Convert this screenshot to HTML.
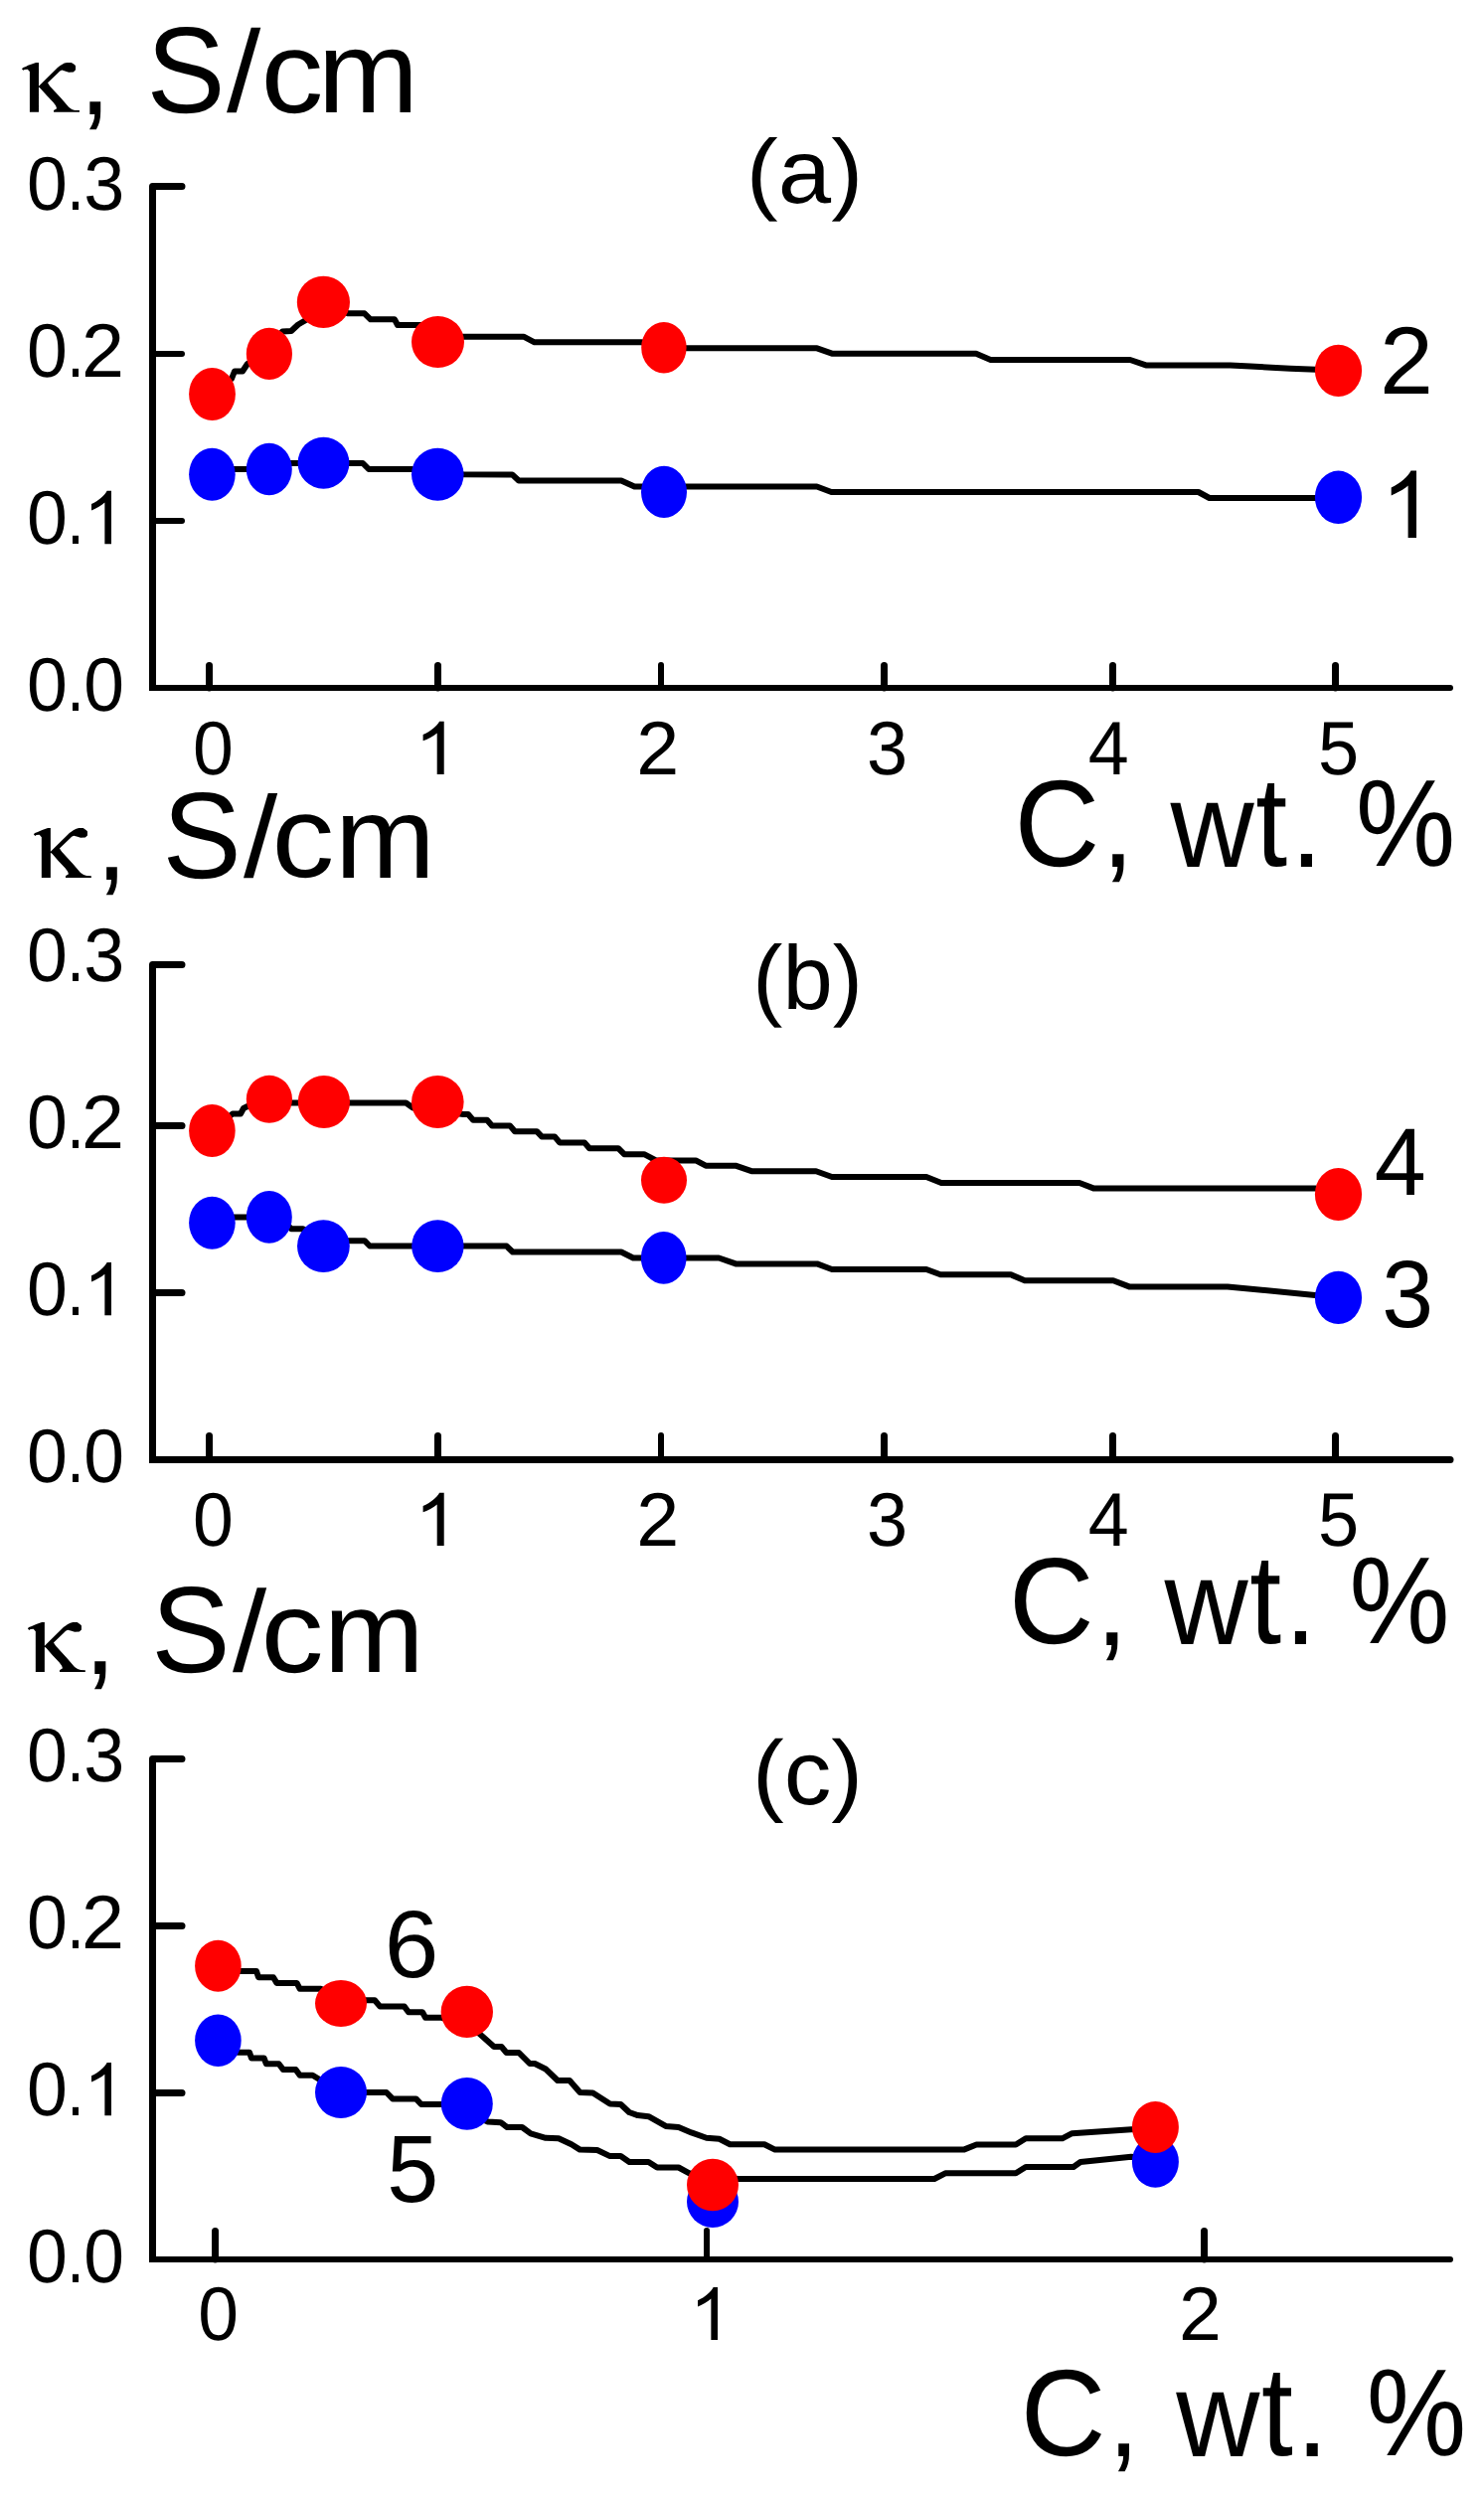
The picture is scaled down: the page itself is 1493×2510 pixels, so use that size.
<!DOCTYPE html><html><head><meta charset="utf-8"><style>html,body{margin:0;padding:0;background:#fff;overflow:hidden;}svg{display:block}text{font-family:"Liberation Sans",sans-serif;font-kerning:none;text-rendering:geometricPrecision}</style></head><body>
<svg width="1493" height="2510" viewBox="0 0 1493 2510">
<rect width="1493" height="2510" fill="#fff"/>
<g fill="none" stroke="#000" stroke-linecap="round" stroke-linejoin="round">
<path d="M183,187.5 L153.5,187.5 L153.5,689.0" stroke-width="7"/>
<path d="M156,692 L1459,692" stroke-width="6"/>
<rect x="150" y="689.0" width="8" height="6" fill="#000" stroke="none"/>
<path d="M153.5,356 L183,356" stroke-width="6"/>
<path d="M153.5,524 L183,524" stroke-width="6"/>
<path d="M210.5,692 L210.5,669.5" stroke-width="7"/>
<path d="M440.5,692 L440.5,669.5" stroke-width="7"/>
<path d="M665,692 L665,669.0" stroke-width="6"/>
<path d="M889.5,692 L889.5,669.5" stroke-width="7"/>
<path d="M1119.5,692 L1119.5,669.5" stroke-width="7"/>
<path d="M1343.5,692 L1343.5,669.5" stroke-width="7"/>
<path d="M183,970.5 L153.5,970.5 L153.5,1465.0" stroke-width="7"/>
<path d="M156,1468.5 L1459,1468.5" stroke-width="7"/>
<rect x="150" y="1465.0" width="8" height="7" fill="#000" stroke="none"/>
<path d="M153.5,1132.5 L183,1132.5" stroke-width="7"/>
<path d="M153.5,1300.5 L183,1300.5" stroke-width="7"/>
<path d="M210.5,1468.5 L210.5,1444.5" stroke-width="7"/>
<path d="M440.5,1468.5 L440.5,1444.5" stroke-width="7"/>
<path d="M665,1468.5 L665,1444.0" stroke-width="6"/>
<path d="M889.5,1468.5 L889.5,1444.5" stroke-width="7"/>
<path d="M1119.5,1468.5 L1119.5,1444.5" stroke-width="7"/>
<path d="M1343.5,1468.5 L1343.5,1444.5" stroke-width="7"/>
<path d="M183,1769.5 L153.5,1769.5 L153.5,2270.0" stroke-width="7"/>
<path d="M156,2273 L1459,2273" stroke-width="6"/>
<rect x="150" y="2270.0" width="8" height="6" fill="#000" stroke="none"/>
<path d="M153.5,1937.5 L183,1937.5" stroke-width="7"/>
<path d="M153.5,2105.5 L183,2105.5" stroke-width="7"/>
<path d="M216.5,2273 L216.5,2244.5" stroke-width="7"/>
<path d="M711,2273 L711,2244.0" stroke-width="6"/>
<path d="M1211.5,2273 L1211.5,2244.5" stroke-width="7"/>
</g>
<g>
<path d="M213.5,396.4 L233.0,381.0 L236.0,373.5 L244.0,373.5 L249.0,366.0 L270.9,355.9 L284.0,333.5 L293.0,333.0 L300.0,326.5 L306.0,323.0 L312.0,319.0 L325.5,303.9 L350.0,315.3 L366.7,315.3 L372.8,321.3 L397.0,321.3 L400.0,327.0 L424.0,327.0 L455.0,338.7 L466.0,338.7 L526.8,338.7 L537.7,344.3 L645.0,344.3 L690.0,350.3 L822.0,350.3 L837.7,355.8 L982.0,355.8 L996.6,361.9 L1137.0,362.0 L1152.8,367.4 L1237.7,367.4 L1258.0,368.5 L1279.0,369.7 L1298.0,370.8 L1324.0,371.8 L1346.5,372.8" fill="none" stroke="#000" stroke-width="6" stroke-linejoin="round"/>
<path d="M213.4,472.0 L270.8,472.0 L290.0,466.0 L325.5,466.0 L365.0,466.0 L371.0,472.0 L414.0,472.0 L440.3,475.0 L466.0,477.3 L515.3,477.4 L521.9,483.5 L625.0,483.5 L638.3,489.5 L668.0,489.5 L821.8,489.5 L836.4,495.0 L1205.7,495.0 L1216.7,501.0 L1346.5,501.0" fill="none" stroke="#000" stroke-width="6" stroke-linejoin="round"/>
<path d="M213.4,1137.5 L234.0,1120.5 L242.0,1120.5 L245.0,1115.0 L249.0,1113.0 L270.9,1109.5 L325.9,1109.5 L408.4,1109.5 L415.5,1114.5 L440.3,1117.0 L466.0,1121.0 L466.0,1121.0 L471.0,1121.0 L476.0,1126.7 L490.0,1126.7 L495.0,1132.4 L513.0,1132.4 L518.0,1138.2 L540.0,1138.2 L545.0,1143.4 L558.0,1143.4 L563.0,1149.4 L588.0,1149.4 L593.0,1155.2 L622.0,1155.2 L628.0,1161.2 L648.0,1161.2 L660.0,1167.4 L700.0,1167.4 L710.0,1172.7 L740.0,1172.7 L756.0,1178.2 L821.0,1178.2 L837.0,1184.0 L932.0,1184.0 L947.0,1190.0 L1086.0,1190.0 L1100.0,1195.4 L1323.0,1195.4 L1346.5,1201.5" fill="none" stroke="#000" stroke-width="6" stroke-linejoin="round"/>
<path d="M213.4,1224.4 L270.8,1224.4 L289.0,1232.0 L293.0,1236.3 L305.0,1236.3 L325.4,1248.2 L366.8,1248.2 L372.0,1253.5 L440.4,1253.5 L466.0,1253.6 L509.7,1253.6 L515.8,1259.5 L625.0,1259.5 L637.0,1265.5 L690.5,1265.5 L723.2,1265.5 L740.2,1271.4 L822.0,1271.4 L837.0,1277.0 L932.0,1277.0 L946.2,1282.3 L1017.0,1282.3 L1031.0,1288.3 L1120.0,1288.3 L1136.0,1294.4 L1235.0,1294.4 L1323.0,1303.0 L1346.5,1305.4" fill="none" stroke="#000" stroke-width="6" stroke-linejoin="round"/>
<path d="M219.4,1983.0 L258.0,1983.0 L260.0,1989.2 L275.0,1989.2 L278.4,1994.9 L298.6,1994.9 L301.7,2000.8 L323.0,2000.8 L343.0,2012.3 L377.0,2012.3 L382.4,2018.6 L406.8,2018.6 L411.0,2024.2 L425.0,2024.2 L428.0,2029.7 L444.0,2029.7 L469.8,2035.0 L483.0,2046.5 L497.0,2059.0 L504.5,2059.0 L509.5,2065.0 L522.0,2065.0 L533.0,2076.0 L538.0,2076.0 L549.0,2081.5 L561.0,2093.0 L573.0,2093.0 L583.5,2105.0 L596.5,2105.5 L613.7,2116.5 L624.5,2117.0 L633.0,2125.0 L641.7,2128.1 L652.5,2129.2 L669.8,2138.9 L682.7,2140.0 L695.6,2145.4 L710.7,2150.8 L723.7,2151.8 L734.4,2157.2 L769.0,2157.2 L779.7,2162.6 L969.6,2162.6 L982.4,2157.5 L1022.0,2157.5 L1032.0,2151.3 L1068.7,2151.3 L1078.6,2146.2 L1138.0,2142.3 L1162.4,2141.0" fill="none" stroke="#000" stroke-width="6" stroke-linejoin="round"/>
<path d="M219.4,2058.0 L239.0,2064.7 L251.0,2064.7 L253.0,2070.6 L265.7,2070.6 L267.8,2076.2 L280.5,2076.2 L284.8,2081.9 L297.5,2081.9 L301.7,2087.8 L314.5,2087.8 L343.0,2105.0 L388.8,2105.0 L395.0,2111.4 L418.5,2111.4 L423.8,2117.0 L444.0,2117.0 L469.8,2125.0 L490.8,2134.6 L503.7,2135.2 L510.2,2140.0 L525.3,2140.0 L533.9,2146.4 L549.0,2150.8 L562.0,2151.2 L574.9,2157.2 L583.5,2162.6 L600.8,2163.0 L613.7,2169.1 L624.5,2169.1 L633.1,2174.9 L652.5,2174.9 L661.1,2180.5 L682.7,2180.5 L693.5,2186.3 L717.0,2190.0 L743.0,2192.0 L940.0,2192.0 L951.0,2186.3 L1022.0,2186.3 L1032.0,2180.0 L1080.0,2180.0 L1087.0,2175.0 L1138.0,2169.7 L1162.4,2172.0" fill="none" stroke="#000" stroke-width="6" stroke-linejoin="round"/>
</g>
<g>
<ellipse cx="213.4" cy="477.3" rx="23.3" ry="26.5" fill="#0000ff"/>
<ellipse cx="270.8" cy="472.0" rx="23.0" ry="26.2" fill="#0000ff"/>
<ellipse cx="325.5" cy="465.7" rx="25.9" ry="26.0" fill="#0000ff"/>
<ellipse cx="440.3" cy="477.3" rx="26.3" ry="26.5" fill="#0000ff"/>
<ellipse cx="668.0" cy="494.9" rx="23.0" ry="26.1" fill="#0000ff"/>
<ellipse cx="1346.5" cy="500.3" rx="23.6" ry="26.7" fill="#0000ff"/>
<ellipse cx="213.5" cy="396.4" rx="23.4" ry="26.5" fill="#ff0000"/>
<ellipse cx="270.9" cy="355.9" rx="23.1" ry="26.1" fill="#ff0000"/>
<ellipse cx="325.4" cy="303.9" rx="26.6" ry="26.1" fill="#ff0000"/>
<ellipse cx="440.5" cy="344.0" rx="26.5" ry="26.0" fill="#ff0000"/>
<ellipse cx="667.9" cy="349.7" rx="22.7" ry="25.7" fill="#ff0000"/>
<ellipse cx="1346.5" cy="372.8" rx="23.6" ry="26.1" fill="#ff0000"/>
<ellipse cx="213.4" cy="1230.2" rx="23.3" ry="26.5" fill="#0000ff"/>
<ellipse cx="270.8" cy="1224.4" rx="23.0" ry="26.3" fill="#0000ff"/>
<ellipse cx="325.4" cy="1253.6" rx="26.4" ry="26.4" fill="#0000ff"/>
<ellipse cx="440.4" cy="1253.6" rx="26.2" ry="26.4" fill="#0000ff"/>
<ellipse cx="667.7" cy="1265.4" rx="22.8" ry="26.4" fill="#0000ff"/>
<ellipse cx="1346.5" cy="1305.4" rx="23.6" ry="26.7" fill="#0000ff"/>
<ellipse cx="213.4" cy="1137.5" rx="23.3" ry="26.5" fill="#ff0000"/>
<ellipse cx="270.9" cy="1105.8" rx="23.1" ry="24.0" fill="#ff0000"/>
<ellipse cx="325.9" cy="1108.4" rx="26.1" ry="26.5" fill="#ff0000"/>
<ellipse cx="440.3" cy="1108.6" rx="26.3" ry="26.5" fill="#ff0000"/>
<ellipse cx="668.0" cy="1187.3" rx="23.0" ry="23.5" fill="#ff0000"/>
<ellipse cx="1346.5" cy="1201.5" rx="23.6" ry="26.6" fill="#ff0000"/>
<ellipse cx="219.4" cy="2052.8" rx="23.3" ry="26.2" fill="#0000ff"/>
<ellipse cx="343.0" cy="2105.0" rx="26.0" ry="26.0" fill="#0000ff"/>
<ellipse cx="469.8" cy="2116.4" rx="26.0" ry="26.3" fill="#0000ff"/>
<ellipse cx="717.0" cy="2214.9" rx="26.0" ry="26.0" fill="#0000ff"/>
<ellipse cx="1162.4" cy="2174.8" rx="23.5" ry="26.0" fill="#0000ff"/>
<ellipse cx="219.4" cy="1977.7" rx="23.3" ry="26.0" fill="#ff0000"/>
<ellipse cx="343.0" cy="2015.5" rx="26.0" ry="23.5" fill="#ff0000"/>
<ellipse cx="469.8" cy="2023.9" rx="26.2" ry="26.1" fill="#ff0000"/>
<ellipse cx="717.0" cy="2198.0" rx="26.0" ry="26.2" fill="#ff0000"/>
<ellipse cx="1162.4" cy="2139.9" rx="23.5" ry="26.0" fill="#ff0000"/>
</g>
<g fill="#000">
<path transform="translate(20.00,60.00)" d="M1.94,9.27 L3.23,7.98 L6.04,6.9 L8.19,5.82 L11.21,4.74 L13.37,3.88 L16.17,2.93 L18.97,2.93 L18.97,26.74 L37.95,7.98 L40.5,6.1 L42.26,4.96 L44.8,3.6 L47.43,2.93 L51.75,2.93 L53.9,4.31 L55.5,5.6 L56.06,6.47 L56.06,10.35 L53.9,12.5 L49.16,12.72 L46.14,11.64 L42.26,10.56 L40.2,11.6 L37.95,13.8 L28.03,23.29 L30.19,26.74 L41.4,38.81 L49.16,47.87 L52.18,50.02 L55.2,50.88 L59.94,51.1 L59.94,52.82 L34.07,52.82 L34.07,51.1 L37.08,49.16 L36.22,46.57 L33.64,43.12 L26.74,35.79 L20.7,28.89 L18.97,27.6 L18.97,52.82 L9.92,52.82 L9.92,12.07 L7.76,9.7 L4.74,9.92 L3.45,10.78 Z"/>
<text transform="translate(79.65,114.63) scale(0.9590,1)" font-size="119.00">,</text>
<path transform="translate(31.90,830.10)" d="M1.94,9.27 L3.23,7.98 L6.04,6.9 L8.19,5.82 L11.21,4.74 L13.37,3.88 L16.17,2.93 L18.97,2.93 L18.97,26.74 L37.95,7.98 L40.5,6.1 L42.26,4.96 L44.8,3.6 L47.43,2.93 L51.75,2.93 L53.9,4.31 L55.5,5.6 L56.06,6.47 L56.06,10.35 L53.9,12.5 L49.16,12.72 L46.14,11.64 L42.26,10.56 L40.2,11.6 L37.95,13.8 L28.03,23.29 L30.19,26.74 L41.4,38.81 L49.16,47.87 L52.18,50.02 L55.2,50.88 L59.94,51.1 L59.94,52.82 L34.07,52.82 L34.07,51.1 L37.08,49.16 L36.22,46.57 L33.64,43.12 L26.74,35.79 L20.7,28.89 L18.97,27.6 L18.97,52.82 L9.92,52.82 L9.92,12.07 L7.76,9.7 L4.74,9.92 L3.45,10.78 Z"/>
<text transform="translate(96.83,884.63) scale(0.9418,1)" font-size="119.00">,</text>
<path transform="translate(25.90,1629.10)" d="M1.94,9.27 L3.23,7.98 L6.04,6.9 L8.19,5.82 L11.21,4.74 L13.37,3.88 L16.17,2.93 L18.97,2.93 L18.97,26.74 L37.95,7.98 L40.5,6.1 L42.26,4.96 L44.8,3.6 L47.43,2.93 L51.75,2.93 L53.9,4.31 L55.5,5.6 L56.06,6.47 L56.06,10.35 L53.9,12.5 L49.16,12.72 L46.14,11.64 L42.26,10.56 L40.2,11.6 L37.95,13.8 L28.03,23.29 L30.19,26.74 L41.4,38.81 L49.16,47.87 L52.18,50.02 L55.2,50.88 L59.94,51.1 L59.94,52.82 L34.07,52.82 L34.07,51.1 L37.08,49.16 L36.22,46.57 L33.64,43.12 L26.74,35.79 L20.7,28.89 L18.97,27.6 L18.97,52.82 L9.92,52.82 L9.92,12.07 L7.76,9.7 L4.74,9.92 L3.45,10.78 Z"/>
<text transform="translate(84.46,1683.53) scale(0.9761,1)" font-size="119.00">,</text>
<text transform="translate(147.52,112.80) scale(0.9619,1)" font-size="123.16">S</text>
<text transform="translate(227.90,111.96) scale(1.0616,1)" font-size="116.29">/</text>
<text transform="translate(262.46,112.51) scale(1.0769,1)" font-size="116.73">c</text>
<text transform="translate(319.83,112.90) scale(1.0353,1)" font-size="117.45">m</text>
<text transform="translate(163.40,882.90) scale(0.9636,1)" font-size="123.30">S</text>
<text transform="translate(244.90,881.77) scale(1.0623,1)" font-size="115.88">/</text>
<text transform="translate(273.57,882.46) scale(1.0758,1)" font-size="116.64">c</text>
<text transform="translate(336.96,882.80) scale(1.0320,1)" font-size="117.27">m</text>
<text transform="translate(152.30,1681.80) scale(0.9661,1)" font-size="123.16">S</text>
<text transform="translate(233.90,1680.57) scale(1.0648,1)" font-size="115.61">/</text>
<text transform="translate(262.44,1681.96) scale(1.0784,1)" font-size="117.00">c</text>
<text transform="translate(325.85,1681.70) scale(1.0398,1)" font-size="116.52">m</text>
<text transform="translate(750.85,204.03) scale(1.0532,1)" font-size="91.13">(a)</text>
<text transform="translate(757.29,1015.03) scale(0.9923,1)" font-size="91.13">(b)</text>
<text transform="translate(756.99,1814.97) scale(1.0421,1)" font-size="91.45">(c)</text>
<text transform="translate(27.03,211.15) scale(0.9611,1)" font-size="76.40">0</text>
<text transform="translate(67.25,211.15) scale(0.8248,1)" font-size="76.40">.</text>
<text transform="translate(84.19,211.15) scale(0.9662,1)" font-size="76.40">3</text>
<text transform="translate(27.03,379.25) scale(0.9611,1)" font-size="76.40">0</text>
<text transform="translate(67.25,379.25) scale(0.8248,1)" font-size="76.40">.</text>
<text transform="translate(82.01,379.25) scale(1.0113,1)" font-size="76.40">2</text>
<text transform="translate(27.03,547.15) scale(0.9611,1)" font-size="76.40">0</text>
<text transform="translate(67.25,547.15) scale(0.8248,1)" font-size="76.40">.</text>
<path transform="translate(83.85,547.15) scale(0.03690,-0.03631)" d="M763,0L583,0L583,1147C540,1106 483,1065 412,1024C341,983 277,952 221,930L221,1104C322,1151 410,1208 485,1276C560,1343 613,1409 645,1472L763,1472Z"/>
<text transform="translate(27.03,715.15) scale(0.9611,1)" font-size="76.40">0</text>
<text transform="translate(67.25,715.15) scale(0.8248,1)" font-size="76.40">.</text>
<text transform="translate(84.14,715.15) scale(0.9583,1)" font-size="76.40">0</text>
<text transform="translate(27.03,987.25) scale(0.9611,1)" font-size="76.40">0</text>
<text transform="translate(67.25,987.25) scale(0.8248,1)" font-size="76.40">.</text>
<text transform="translate(84.19,987.25) scale(0.9662,1)" font-size="76.40">3</text>
<text transform="translate(27.03,1155.15) scale(0.9611,1)" font-size="76.40">0</text>
<text transform="translate(67.25,1155.15) scale(0.8248,1)" font-size="76.40">.</text>
<text transform="translate(82.01,1155.15) scale(1.0113,1)" font-size="76.40">2</text>
<text transform="translate(27.03,1323.15) scale(0.9611,1)" font-size="76.40">0</text>
<text transform="translate(67.25,1323.15) scale(0.8248,1)" font-size="76.40">.</text>
<path transform="translate(83.85,1323.15) scale(0.03690,-0.03618)" d="M763,0L583,0L583,1147C540,1106 483,1065 412,1024C341,983 277,952 221,930L221,1104C322,1151 410,1208 485,1276C560,1343 613,1409 645,1472L763,1472Z"/>
<text transform="translate(27.03,1491.25) scale(0.9611,1)" font-size="76.40">0</text>
<text transform="translate(67.25,1491.25) scale(0.8248,1)" font-size="76.40">.</text>
<text transform="translate(84.14,1491.25) scale(0.9583,1)" font-size="76.40">0</text>
<text transform="translate(27.03,1792.15) scale(0.9611,1)" font-size="76.40">0</text>
<text transform="translate(67.25,1792.15) scale(0.8248,1)" font-size="76.40">.</text>
<text transform="translate(84.19,1792.15) scale(0.9662,1)" font-size="76.40">3</text>
<text transform="translate(27.03,1960.05) scale(0.9611,1)" font-size="76.40">0</text>
<text transform="translate(67.25,1960.05) scale(0.8248,1)" font-size="76.40">.</text>
<text transform="translate(82.01,1960.05) scale(1.0113,1)" font-size="76.40">2</text>
<text transform="translate(27.03,2128.15) scale(0.9611,1)" font-size="76.40">0</text>
<text transform="translate(67.25,2128.15) scale(0.8248,1)" font-size="76.40">.</text>
<path transform="translate(83.85,2128.15) scale(0.03690,-0.03618)" d="M763,0L583,0L583,1147C540,1106 483,1065 412,1024C341,983 277,952 221,930L221,1104C322,1151 410,1208 485,1276C560,1343 613,1409 645,1472L763,1472Z"/>
<text transform="translate(27.03,2296.25) scale(0.9611,1)" font-size="76.40">0</text>
<text transform="translate(67.25,2296.25) scale(0.8248,1)" font-size="76.40">.</text>
<text transform="translate(84.14,2296.25) scale(0.9583,1)" font-size="76.40">0</text>
<text transform="translate(194.03,779.25) scale(0.9611,1)" font-size="76.40">0</text>
<path transform="translate(417.00,779.10) scale(0.03893,-0.03628)" d="M763,0L583,0L583,1147C540,1106 483,1065 412,1024C341,983 277,952 221,930L221,1104C322,1151 410,1208 485,1276C560,1343 613,1409 645,1472L763,1472Z"/>
<text transform="translate(640.21,779.10) scale(1.0113,1)" font-size="76.40">2</text>
<text transform="translate(871.88,779.15) scale(0.9690,1)" font-size="76.40">3</text>
<text transform="translate(1094.81,778.50) scale(0.9637,1)" font-size="76.40">4</text>
<text transform="translate(1325.94,779.25) scale(0.9690,1)" font-size="76.40">5</text>
<text transform="translate(194.03,1555.25) scale(0.9611,1)" font-size="76.40">0</text>
<path transform="translate(417.00,1555.10) scale(0.03893,-0.03628)" d="M763,0L583,0L583,1147C540,1106 483,1065 412,1024C341,983 277,952 221,930L221,1104C322,1151 410,1208 485,1276C560,1343 613,1409 645,1472L763,1472Z"/>
<text transform="translate(640.21,1555.10) scale(1.0113,1)" font-size="76.40">2</text>
<text transform="translate(871.88,1555.15) scale(0.9690,1)" font-size="76.40">3</text>
<text transform="translate(1094.81,1554.50) scale(0.9637,1)" font-size="76.40">4</text>
<text transform="translate(1325.94,1555.25) scale(0.9690,1)" font-size="76.40">5</text>
<text transform="translate(199.14,2354.25) scale(0.9583,1)" font-size="76.40">0</text>
<path transform="translate(693.85,2353.90) scale(0.03690,-0.03601)" d="M763,0L583,0L583,1147C540,1106 483,1065 412,1024C341,983 277,952 221,930L221,1104C322,1151 410,1208 485,1276C560,1343 613,1409 645,1472L763,1472Z"/>
<text transform="translate(1186.03,2353.90) scale(1.0085,1)" font-size="76.40">2</text>
<text transform="translate(1020.56,870.79) scale(0.9632,1)" font-size="123.44">C</text>
<text transform="translate(1108.18,872.23) scale(0.9932,1)" font-size="119.00">,</text>
<text transform="translate(1177.47,871.50) scale(0.9590,1)" font-size="121.50">w</text>
<text transform="translate(1263.26,871.00) scale(0.8937,1)" font-size="128.38">t</text>
<text transform="translate(1298.26,871.50) scale(0.9595,1)" font-size="121.50">.</text>
<text transform="translate(1363.88,871.07) scale(0.9056,1)" font-size="124.48">%</text>
<text transform="translate(1014.88,1652.80) scale(0.9628,1)" font-size="123.16">C</text>
<text transform="translate(1102.46,1654.73) scale(0.9761,1)" font-size="119.00">,</text>
<text transform="translate(1171.47,1653.50) scale(0.9590,1)" font-size="121.50">w</text>
<text transform="translate(1257.26,1653.00) scale(0.8937,1)" font-size="128.38">t</text>
<text transform="translate(1292.26,1653.50) scale(0.9595,1)" font-size="121.50">.</text>
<text transform="translate(1357.55,1652.87) scale(0.9125,1)" font-size="124.48">%</text>
<text transform="translate(1026.77,2469.99) scale(0.9619,1)" font-size="123.44">C</text>
<text transform="translate(1114.84,2471.33) scale(0.9504,1)" font-size="119.00">,</text>
<text transform="translate(1183.27,2470.50) scale(0.9590,1)" font-size="121.50">w</text>
<text transform="translate(1269.06,2470.00) scale(0.8937,1)" font-size="128.38">t</text>
<text transform="translate(1304.06,2470.50) scale(0.9595,1)" font-size="121.50">.</text>
<text transform="translate(1374.67,2470.27) scale(0.9055,1)" font-size="124.77">%</text>
<text transform="translate(1388.02,396.00) scale(1.0081,1)" font-size="96.24">2</text>
<path transform="translate(1389.38,541.00) scale(0.04668,-0.04579)" d="M763,0L583,0L583,1147C540,1106 483,1065 412,1024C341,983 277,952 221,930L221,1104C322,1151 410,1208 485,1276C560,1343 613,1409 645,1472L763,1472Z"/>
<text transform="translate(1382.85,1202.20) scale(0.9699,1)" font-size="96.37">4</text>
<text transform="translate(1390.25,1334.96) scale(0.9721,1)" font-size="95.90">3</text>
<text transform="translate(386.81,1988.86) scale(1.0222,1)" font-size="96.04">6</text>
<text transform="translate(389.16,2214.96) scale(0.9745,1)" font-size="95.88">5</text>
</g>
</svg></body></html>
